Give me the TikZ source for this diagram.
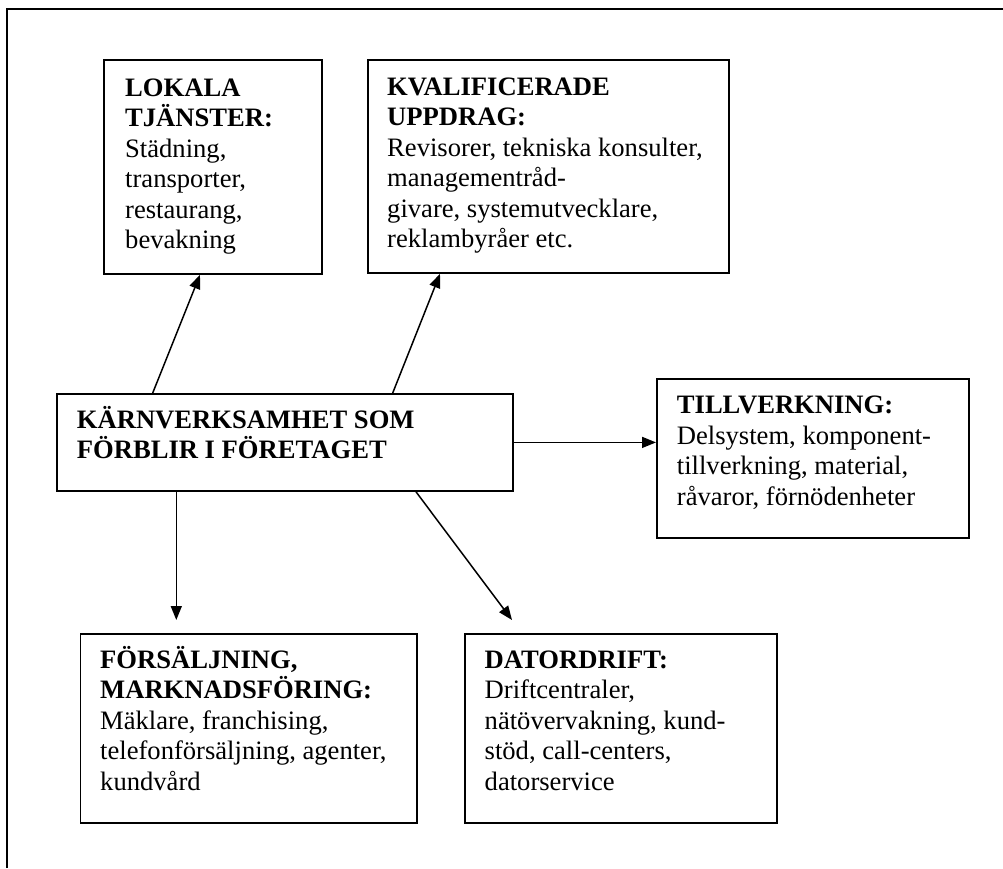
\documentclass[tikz,border=0pt]{standalone}
\usepackage{fontspec}
\setmainfont{Liberation Serif}
\usetikzlibrary{arrows.meta,calc}
\tikzset{
  box/.style={draw, line width=1.8pt, inner sep=0pt, anchor=north west},
  txt/.style={anchor=base west, inner sep=0pt},
  arr/.style={line width=1.5pt, -{Triangle[length=14pt,width=11pt]}},
  frameline/.style={line width=2pt},
}
\newcommand{\boxtext}[1]{\parbox[t]{400pt}{\fontsize{26.6}{30.5}\selectfont\raggedright #1}}
\begin{document}
\begin{tikzpicture}[x=1pt,y=-1pt]
\useasboundingbox (0,0) rectangle (1003,868);
\draw[frameline] (7,868) -- (7,9) -- (1003,9);

% boxes
\node[box, minimum width=218pt, minimum height=214pt] (lok) at (103,59) {};
\node[box, minimum width=361pt, minimum height=213pt] (kval) at (367,59) {};
\node[box, minimum width=456.7pt, minimum height=97pt] (core) at (55.7,393) {};
\node[box, minimum width=312pt, minimum height=159pt] (till) at (656,378) {};
\node[box, minimum width=336.7pt, minimum height=189pt] (fors) at (79.6,633) {};
\node[box, minimum width=312pt, minimum height=189pt] (dator) at (464,633) {};

% texts
\node[txt] (loktxt) at (125,96) {\boxtext{\textbf{LOKALA}\\\textbf{TJÄNSTER:}\\Städning,\\transporter,\\restaurang,\\bevakning}};
\node[txt] (kvaltxt) at (387,95) {\boxtext{\textbf{KVALIFICERADE}\\\textbf{UPPDRAG:}\\Revisorer, tekniska konsulter,\\managementråd-\\givare, systemutvecklare,\\reklambyråer etc.}};
\node[txt] (coretxt) at (76.7,428.3) {\boxtext{\textbf{KÄRNVERKSAMHET SOM}\\\textbf{FÖRBLIR I FÖRETAGET}}};
\node[txt] (tilltxt) at (676.7,413.6) {\boxtext{\textbf{TILLVERKNING:}\\Delsystem, komponent-\\tillverkning, material,\\råvaror, förnödenheter}};
\node[txt] (forstxt) at (100,668.3) {\boxtext{\textbf{FÖRSÄLJNING,}\\\textbf{MARKNADSFÖRING:}\\Mäklare, franchising,\\telefonförsäljning, agenter,\\kundvård}};
\node[txt] (datortxt) at (484.5,668.3) {\boxtext{\textbf{DATORDRIFT:}\\Driftcentraler,\\nätövervakning, kund-\\stöd, call-centers,\\datorservice}};

% connectors
\draw[arr] ($(core.north west)+(97,0)$) -- ($(lok.south west)+(97,0)$);
\draw[arr] ($(core.north west)+(337,0)$) -- ($(kval.south west)+(73,0)$);
\draw[arr] (core.east) -- (core.east -| till.west);
\draw[arr] ($(core.south west)+(120.6,0)$) -- ($(fors.north west)+(96.7,-13)$);
\draw[arr] ($(core.south west)+(360.3,0)$) -- ($(dator.north west)+(48,-13)$);
\end{tikzpicture}
\end{document}
